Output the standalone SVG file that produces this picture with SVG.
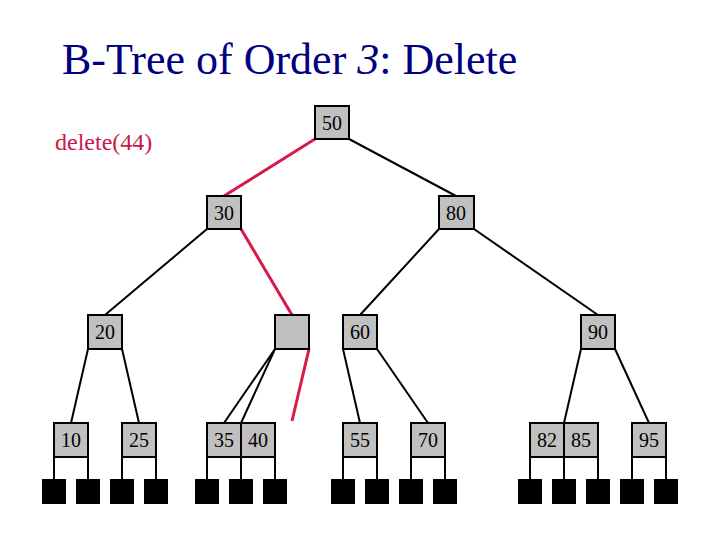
<svg xmlns="http://www.w3.org/2000/svg" width="720" height="540" viewBox="0 0 720 540">
<style>
.n{fill:#c0c0c0;stroke:#000;stroke-width:2}
.t{font-family:"Liberation Serif",serif;font-size:20px;fill:#000;text-anchor:middle}
.e{stroke:#000;stroke-width:2;fill:none}
.r{stroke:#d81a48;stroke-width:3;fill:none}
.lf{fill:#000}
</style>
<rect width="720" height="540" fill="#fff"/>
<text x="62" y="74" font-family="Liberation Serif,serif" font-size="44" fill="#000080">B-Tree of Order <tspan font-style="italic">3</tspan>: Delete</text>
<text x="55" y="150" font-family="Liberation Serif,serif" font-size="24" fill="#c8184a">delete(44)</text>
<g id="connectors">
<line class="r" x1="315" y1="139" x2="224" y2="196"/>
<line class="e" x1="349" y1="139" x2="456" y2="196"/>
<line class="e" x1="207" y1="229" x2="105" y2="315"/>
<line class="r" x1="241" y1="229" x2="292" y2="315"/>
<line class="e" x1="439" y1="229" x2="360" y2="315"/>
<line class="e" x1="474" y1="229" x2="598" y2="315"/>
<line class="e" x1="88" y1="349" x2="71" y2="423"/>
<line class="e" x1="122" y1="349" x2="139" y2="423"/>
<line class="e" x1="275" y1="349" x2="224" y2="423"/>
<line class="e" x1="275" y1="349" x2="241" y2="423"/>
<line class="r" x1="309" y1="349" x2="292" y2="421"/>
<line class="e" x1="343" y1="349" x2="360" y2="423"/>
<line class="e" x1="377" y1="349" x2="428" y2="423"/>
<line class="e" x1="581" y1="349" x2="564" y2="423"/>
<line class="e" x1="615" y1="349" x2="649" y2="423"/>
<path class="e" d="M54 457V479M88 457V479M122 457V479M156 457V479M207 457V479M241 457V479M275 457V479M343 457V479M377 457V479M411 457V479M445 457V479M530 457V479M564 457V479M598 457V479M632 457V479M666 457V479"/>
</g>
<g id="n50"><rect class="n" x="315" y="106" width="34" height="33"/><text class="t" x="332" y="130">50</text></g>
<g id="n30"><rect class="n" x="207" y="196" width="34" height="33"/><text class="t" x="224" y="220">30</text></g>
<g id="n80"><rect class="n" x="439" y="196" width="35" height="33"/><text class="t" x="456" y="220">80</text></g>
<g id="n20"><rect class="n" x="88" y="315" width="34" height="34"/><text class="t" x="105" y="339">20</text></g>
<g id="nempty"><rect class="n" x="275" y="315" width="34" height="34"/></g>
<g id="n60"><rect class="n" x="343" y="315" width="34" height="34"/><text class="t" x="360" y="339">60</text></g>
<g id="n90"><rect class="n" x="581" y="315" width="34" height="34"/><text class="t" x="598" y="339">90</text></g>
<g id="n10"><rect class="n" x="54" y="423" width="34" height="34"/><text class="t" x="71" y="447">10</text></g>
<g id="n25"><rect class="n" x="122" y="423" width="34" height="34"/><text class="t" x="139" y="447">25</text></g>
<g id="n3540"><rect class="n" x="207" y="423" width="34" height="34"/><rect class="n" x="241" y="423" width="34" height="34"/><text class="t" x="224" y="447">35</text><text class="t" x="258" y="447">40</text></g>
<g id="n55"><rect class="n" x="343" y="423" width="34" height="34"/><text class="t" x="360" y="447">55</text></g>
<g id="n70"><rect class="n" x="411" y="423" width="34" height="34"/><text class="t" x="428" y="447">70</text></g>
<g id="n8285"><rect class="n" x="530" y="423" width="34" height="34"/><rect class="n" x="564" y="423" width="34" height="34"/><text class="t" x="547" y="447">82</text><text class="t" x="581" y="447">85</text></g>
<g id="n95"><rect class="n" x="632" y="423" width="34" height="34"/><text class="t" x="649" y="447">95</text></g>
<g id="leaves">
<rect class="lf" x="42" y="479" width="24" height="25"/>
<rect class="lf" x="76" y="479" width="24" height="25"/>
<rect class="lf" x="110" y="479" width="24" height="25"/>
<rect class="lf" x="144" y="479" width="24" height="25"/>
<rect class="lf" x="195" y="479" width="24" height="25"/>
<rect class="lf" x="229" y="479" width="24" height="25"/>
<rect class="lf" x="263" y="479" width="24" height="25"/>
<rect class="lf" x="331" y="479" width="24" height="25"/>
<rect class="lf" x="365" y="479" width="24" height="25"/>
<rect class="lf" x="399" y="479" width="24" height="25"/>
<rect class="lf" x="433" y="479" width="24" height="25"/>
<rect class="lf" x="518" y="479" width="24" height="25"/>
<rect class="lf" x="552" y="479" width="24" height="25"/>
<rect class="lf" x="586" y="479" width="24" height="25"/>
<rect class="lf" x="620" y="479" width="24" height="25"/>
<rect class="lf" x="654" y="479" width="24" height="25"/>
</g>
</svg>
